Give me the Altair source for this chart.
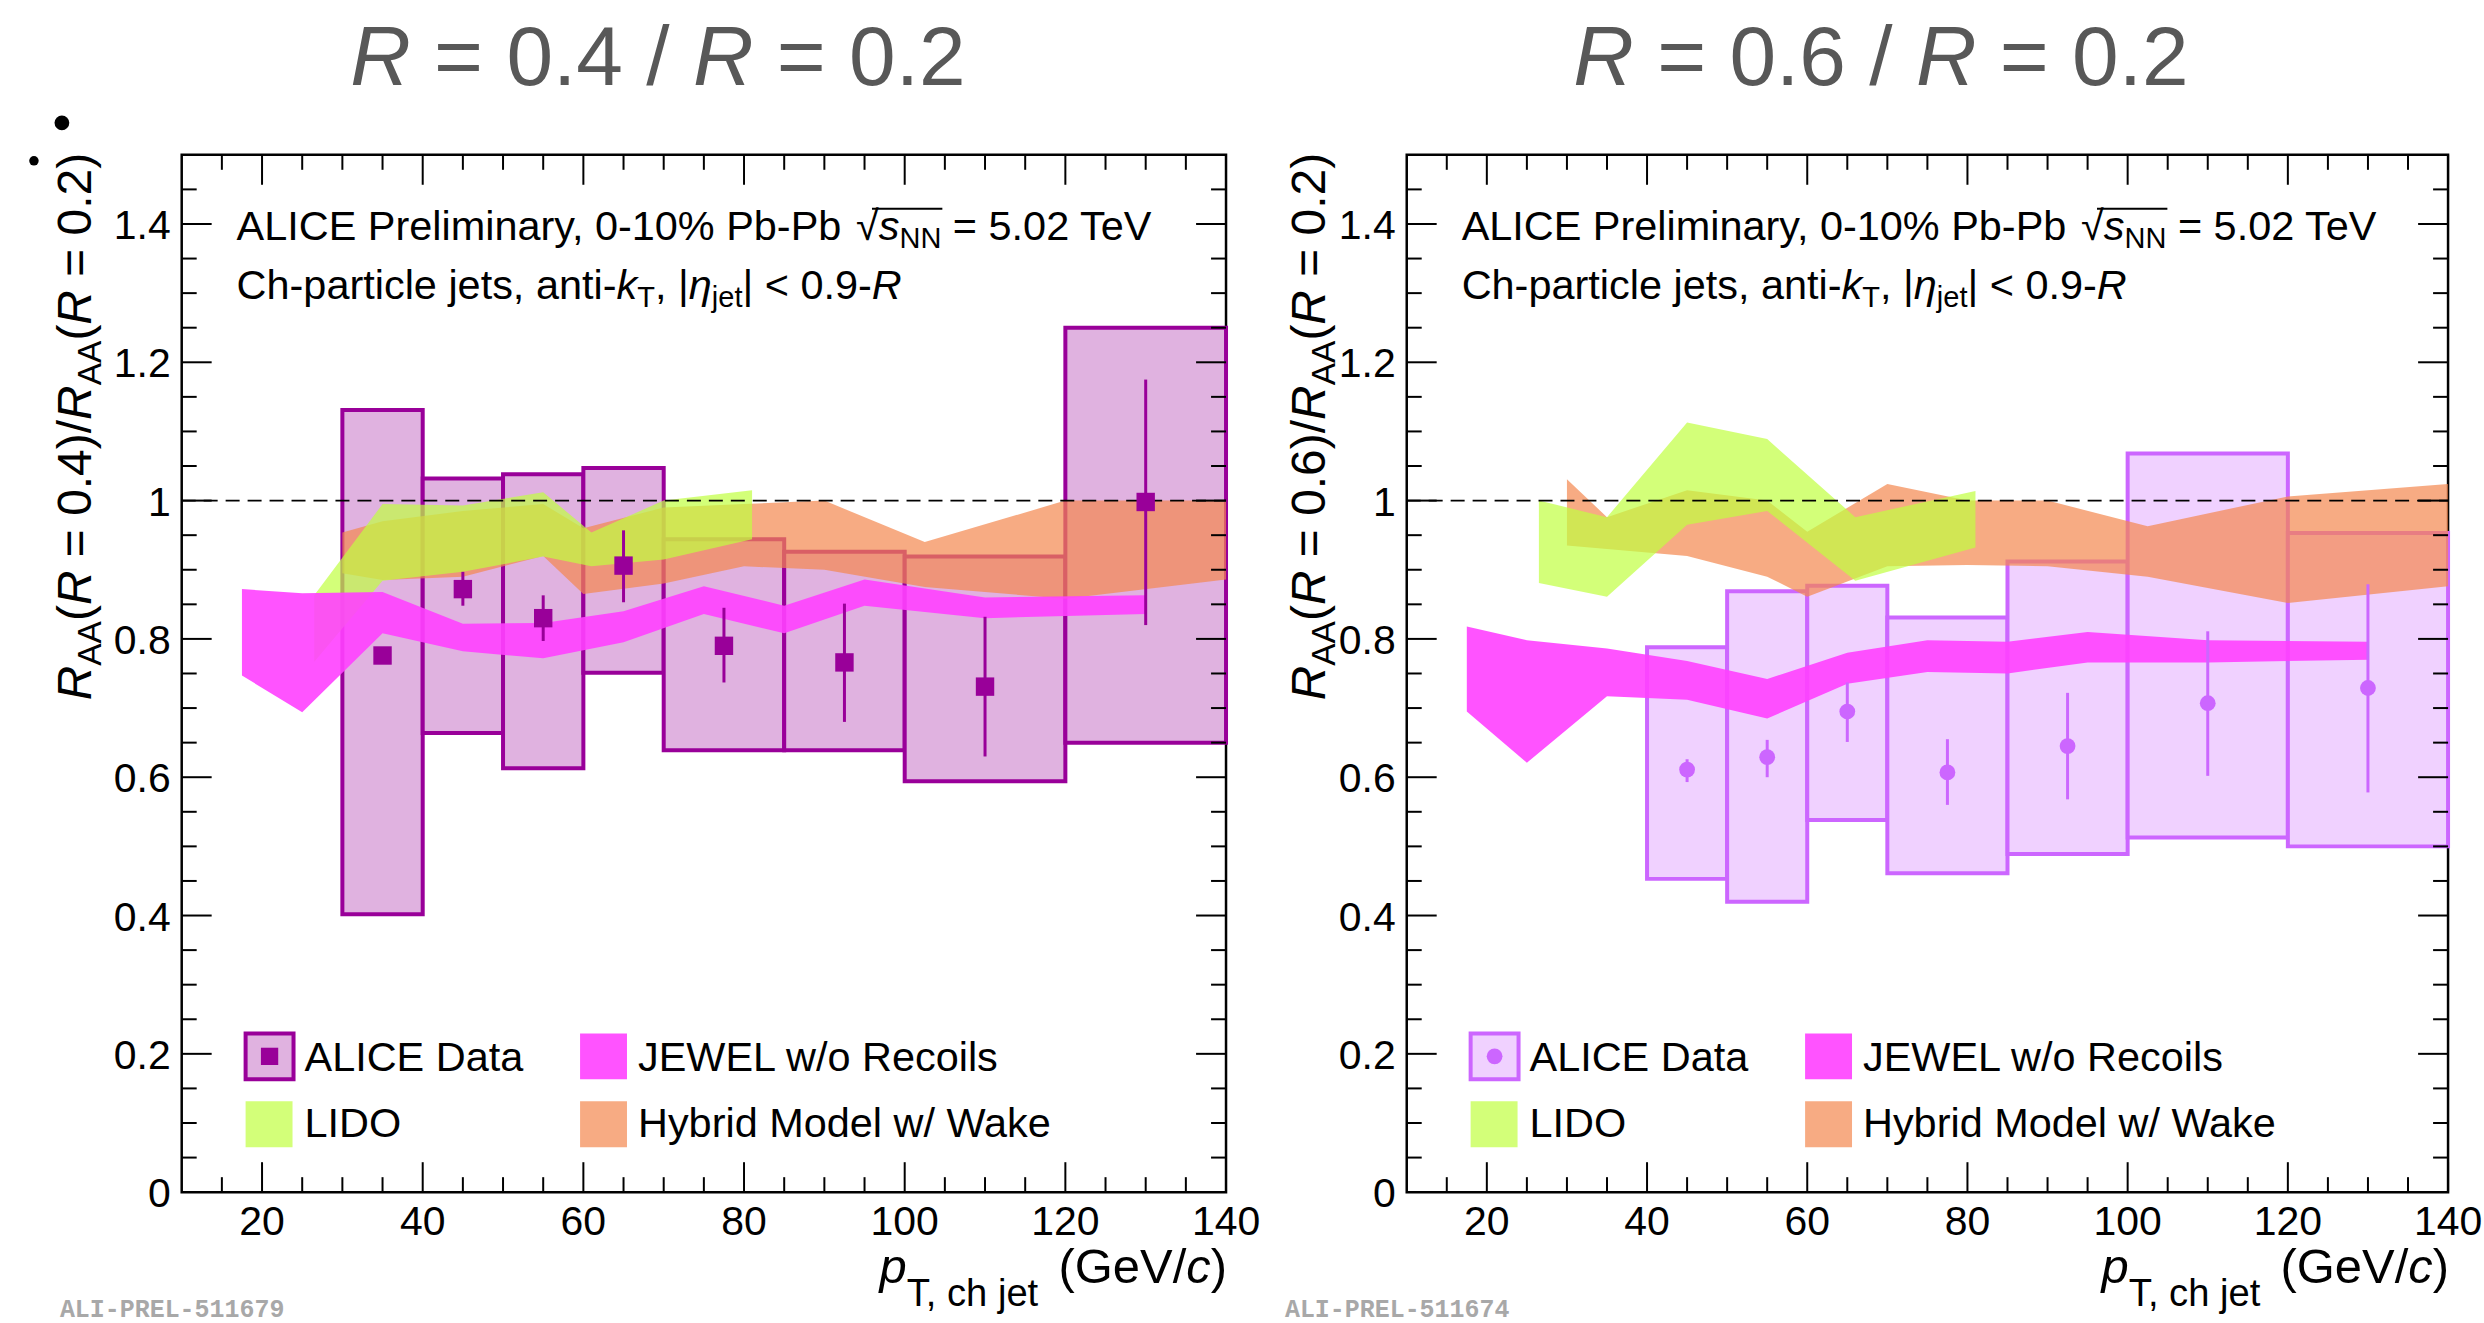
import altair as alt
import pandas as pd

FONT = "Liberation Sans"
MONO = "Liberation Mono"

# ---------------- R = 0.4 / R = 0.2 ----------------
bin_lo_04 = [30, 40, 50, 60, 70, 85, 100, 120]
bin_hi_04 = [40, 50, 60, 70, 85, 100, 120, 140]
pt_04 = [35, 45, 55, 65, 77.5, 92.5, 110, 130]
ratio_04 = [0.776, 0.872, 0.830, 0.906, 0.790, 0.766, 0.731, 0.998]
stat_lo_04 = [0.768, 0.848, 0.797, 0.853, 0.737, 0.680, 0.630, 0.820]
stat_hi_04 = [0.784, 0.897, 0.863, 0.957, 0.845, 0.851, 0.832, 1.175]
sys_lo_04 = [0.402, 0.664, 0.613, 0.751, 0.639, 0.639, 0.594, 0.650]
sys_hi_04 = [1.131, 1.032, 1.038, 1.047, 0.944, 0.926, 0.919, 1.250]

jewel_x = [17.5, 25, 35, 45, 55, 65, 75, 85, 95, 110, 130]
jewel_lo_04 = [0.747, 0.694, 0.808, 0.782, 0.772, 0.795, 0.836, 0.808, 0.848, 0.830, 0.836]
jewel_hi_04 = [0.872, 0.866, 0.868, 0.822, 0.823, 0.840, 0.876, 0.848, 0.886, 0.860, 0.863]

lido_x_04 = [26.5, 35, 45, 55, 61, 70, 81]
lido_lo_04 = [0.767, 0.884, 0.897, 0.919, 0.905, 0.915, 0.944]
lido_hi_04 = [0.863, 0.995, 0.993, 1.012, 0.954, 1.000, 1.015]

hybrid_x = [30, 35, 45, 55, 60, 70, 80, 90, 102.5, 120, 140]
hybrid_lo_04 = [0.895, 0.885, 0.890, 0.920, 0.865, 0.880, 0.905, 0.900, 0.875, 0.858, 0.886]
hybrid_hi_04 = [0.954, 0.970, 0.985, 0.995, 0.960, 0.990, 0.995, 1.000, 0.940, 1.000, 1.000]

# ---------------- R = 0.6 / R = 0.2 ----------------
bin_lo_06 = [40, 50, 60, 70, 85, 100, 120]
bin_hi_06 = [50, 60, 70, 85, 100, 120, 140]
pt_06 = [45, 55, 65, 77.5, 92.5, 110, 130]
ratio_06 = [0.611, 0.629, 0.695, 0.607, 0.645, 0.707, 0.729]
stat_lo_06 = [0.593, 0.600, 0.651, 0.560, 0.568, 0.602, 0.578]
stat_hi_06 = [0.626, 0.654, 0.737, 0.655, 0.722, 0.811, 0.879]
sys_lo_06 = [0.453, 0.420, 0.538, 0.461, 0.489, 0.513, 0.500]
sys_hi_06 = [0.788, 0.869, 0.877, 0.831, 0.912, 1.068, 0.953]

jewel_lo_06 = [0.695, 0.621, 0.717, 0.712, 0.685, 0.735, 0.752, 0.750, 0.766, 0.766, 0.770]
jewel_hi_06 = [0.818, 0.798, 0.786, 0.768, 0.742, 0.780, 0.798, 0.796, 0.810, 0.798, 0.796]

lido_x_06 = [26.5, 35, 45, 55, 66, 81]
lido_lo_06 = [0.881, 0.861, 0.965, 0.985, 0.884, 0.932]
lido_hi_06 = [1.000, 0.976, 1.113, 1.089, 0.976, 1.014]

hybrid_lo_06 = [0.935, 0.930, 0.920, 0.890, 0.861, 0.905, 0.907, 0.905, 0.890, 0.852, 0.876]
hybrid_hi_06 = [1.031, 0.976, 1.015, 1.000, 0.955, 1.024, 1.000, 1.000, 0.963, 1.006, 1.024]

# axis ticks and labels
x_major = [20, 40, 60, 80, 100, 120, 140]
x_minor = [v for v in range(15, 140, 5) if v % 20]
y_major = [round(0.2 * i, 2) for i in range(1, 8)]
y_minor = [round(0.05 * i, 2) for i in range(1, 30) if i % 4]
x_tick_labels = ["20", "40", "60", "80", "100", "120", "140"]
y_tick_values = [0, 0.2, 0.4, 0.6, 0.8, 1.0, 1.2, 1.4]
y_tick_labels = ["0", "0.2", "0.4", "0.6", "0.8", "1", "1.2", "1.4"]

PH = 1039
XS = alt.Scale(domain=[10, 140], nice=False, zero=False)
YS = alt.Scale(domain=[0, 1.5], nice=False, zero=False)

JEWEL_C, JEWEL_A = "#ff40ff", 0.9
LIDO_C, LIDO_A = "#c0ff40", 0.7
HYB_C, HYB_A = "#f4874f", 0.7

ONE = pd.DataFrame({"k": [0]})

# Helvetica/Arial advance widths (per 1000 em) for laying out mixed-style text
WID = {" ": 278, "(": 333, ")": 333, ",": 278, "-": 333, ".": 278, "/": 278, "%": 889,
       "|": 260, "<": 584, "=": 584, "\u221a": 549, "\u03b7": 556,
       "A": 667, "C": 722, "D": 722, "E": 667, "G": 778, "H": 722, "I": 278, "J": 500,
       "L": 556, "M": 833, "N": 722, "O": 778, "P": 667, "R": 722, "T": 611, "V": 667,
       "W": 944, "a": 556, "b": 556, "c": 500, "d": 556, "e": 556, "h": 556, "i": 222,
       "j": 222, "k": 500, "l": 222, "m": 833, "n": 556, "o": 556, "p": 556, "r": 333,
       "s": 500, "t": 278, "w": 722, "y": 500}
for _d in "0123456789":
    WID[_d] = 556


def tw(s, size):
    return sum(WID.get(c, 556) for c in s) * size / 1000.0


def label(s, x, y, size, italic=False, angle=0, color="black", align="left",
          font=FONT, bold=False):
    return alt.Chart(ONE).mark_text(
        text=s, font=font, fontSize=size,
        fontStyle="italic" if italic else "normal",
        fontWeight="bold" if bold else "normal",
        align=align, baseline="alphabetic", angle=angle, color=color,
    ).encode(x=alt.value(x), y=alt.value(y))


def rich_len(parts, size, sub):
    tot = 0.0
    for p in parts:
        fs = size * sub if p[2] else size
        tot += tw(p[0], fs) + (p[3] if len(p) > 3 else 0.0)
    return tot


def rich(parts, x0, y0, size, sub=0.7, drop=0.22, vertical=False, color="black"):
    """Lay out runs of (text, italic, subscript[, gap]) one after another."""
    out, off, marks = [], 0.0, []
    for p in parts:
        text, it, is_sub = p[:3]
        gap = p[3] if len(p) > 3 else 0.0
        fs = size * sub if is_sub else size
        sh = size * drop if is_sub else 0.0
        marks.append(off)
        body = text.lstrip(" ")
        lead = tw(text[: len(text) - len(body)], fs)
        if vertical:
            out.append(label(body, x0 + sh, y0 - off - lead, fs, it, angle=270, color=color))
        else:
            out.append(label(body, x0 + off + lead, y0 + sh, fs, it, color=color))
        off += tw(text, fs) + gap
    marks.append(off)
    return out, marks


def frame_ticks(W):
    out = []
    for vals, L in ((x_major, 30), (x_minor, 15)):
        base = alt.Chart(pd.DataFrame({"v": vals})).mark_rule(color="black", strokeWidth=2)
        xe = alt.X("v:Q", scale=XS, axis=None)
        out.append(base.encode(x=xe, y=alt.value(PH), y2=alt.value(PH - L)))
        out.append(base.encode(x=xe, y=alt.value(0), y2=alt.value(L)))
    for vals, L in ((y_major, 30), (y_minor, 15)):
        base = alt.Chart(pd.DataFrame({"v": vals})).mark_rule(color="black", strokeWidth=2)
        ye = alt.Y("v:Q", scale=YS, axis=None)
        out.append(base.encode(y=ye, x=alt.value(0), x2=alt.value(L)))
        out.append(base.encode(y=ye, x=alt.value(W), x2=alt.value(W - L)))
    # tick labels
    xl = pd.DataFrame({"v": x_major, "t": x_tick_labels})
    out.append(alt.Chart(xl).mark_text(font=FONT, fontSize=41, align="center",
                                       baseline="alphabetic", color="black").encode(
        x=alt.X("v:Q", scale=XS, axis=None), y=alt.value(PH + 43), text="t:N"))
    yl = pd.DataFrame({"v": y_tick_values, "t": y_tick_labels})
    out.append(alt.Chart(yl).mark_text(font=FONT, fontSize=41, align="right",
                                       baseline="alphabetic", dy=15, color="black").encode(
        y=alt.Y("v:Q", scale=YS, axis=None), x=alt.value(-11), text="t:N"))
    return out


def panel(W, d, st):
    layers = []
    # transparent sheet fixing the panel's outer extent on the page
    layers.append(alt.Chart(ONE).mark_rect(opacity=0).encode(
        x=alt.value(st["ext_l"]), x2=alt.value(st["ext_r"]),
        y=alt.value(-152), y2=alt.value(1171)))

    boxes = pd.DataFrame({"lo": d["bin_lo"], "hi": d["bin_hi"],
                          "slo": d["sys_lo"], "shi": d["sys_hi"]})
    layers.append(alt.Chart(boxes).mark_rect(fill=st["fill"], stroke=st["edge"], strokeWidth=4).encode(
        x=alt.X("lo:Q", scale=XS, axis=None), x2="hi:Q",
        y=alt.Y("slo:Q", scale=YS, axis=None), y2="shi:Q"))

    def band(xv, lo, hi, color, op):
        df = pd.DataFrame({"x": xv, "lo": lo, "hi": hi})
        return alt.Chart(df).mark_area(color=color, opacity=op).encode(
            x=alt.X("x:Q", scale=XS, axis=None),
            y=alt.Y("lo:Q", scale=YS, axis=None), y2="hi:Q")

    layers.append(band(hybrid_x, d["hyb_lo"], d["hyb_hi"], HYB_C, HYB_A))
    layers.append(band(d["lido_x"], d["lido_lo"], d["lido_hi"], LIDO_C, LIDO_A))
    layers.append(band(jewel_x, d["jew_lo"], d["jew_hi"], JEWEL_C, JEWEL_A))

    layers.append(alt.Chart(pd.DataFrame({"ref": [1.0]})).mark_rule(
        color="black", strokeWidth=1.6, strokeDash=[14, 8]).encode(
        y=alt.Y("ref:Q", scale=YS, axis=None), x=alt.value(0), x2=alt.value(W)))

    pts = pd.DataFrame({"x": d["pt"], "v": d["ratio"], "elo": d["stat_lo"], "ehi": d["stat_hi"]})
    layers.append(alt.Chart(pts).mark_rule(color=st["edge"], strokeWidth=3).encode(
        x=alt.X("x:Q", scale=XS, axis=None),
        y=alt.Y("elo:Q", scale=YS, axis=None), y2="ehi:Q"))
    if st["shape"] == "square":
        mk = alt.Chart(pts).mark_square(size=340, color=st["edge"], opacity=1)
    else:
        mk = alt.Chart(pts).mark_circle(size=250, color=st["edge"], opacity=1)
    layers.append(mk.encode(x=alt.X("x:Q", scale=XS, axis=None),
                            y=alt.Y("v:Q", scale=YS, axis=None)))

    layers += frame_ticks(W)

    # panel heading
    tparts = [("R", True, False), (st["head"], False, False), ("R", True, False),
              (" = 0.2", False, False)]
    tl = rich_len(tparts, 84, 0.7)
    txt, _ = rich(tparts, st["head_cx"] - tl / 2, -70, 84, color="#585858")
    layers += txt

    # collaboration / selection text
    l1 = [("ALICE Preliminary, 0-10% Pb-Pb ", False, False), ("\u221a", False, False),
          ("s", True, False), ("NN", False, True), (" = 5.02 TeV", False, False)]
    txt, m = rich(l1, 55, 85, 41.5, sub=0.7, drop=0.2)
    layers += txt
    layers.append(alt.Chart(ONE).mark_rule(color="black", strokeWidth=2).encode(
        x=alt.value(55 + m[1] + 16), x2=alt.value(55 + m[4] + 1),
        y=alt.value(54), y2=alt.value(54)))
    l2 = [("Ch-particle jets, anti-", False, False), ("k", True, False), ("T", False, True),
          (", |", False, False), ("\u03b7", True, False), ("jet", False, True),
          ("| < 0.9-", False, False), ("R", True, False)]
    txt, _ = rich(l2, 55, 144, 41.5, sub=0.7, drop=0.2)
    layers += txt

    # legend
    layers.append(alt.Chart(ONE).mark_rect(fill=st["fill"], stroke=st["edge"], strokeWidth=4).encode(
        x=alt.value(64), x2=alt.value(112), y=alt.value(880), y2=alt.value(926)))
    if st["shape"] == "square":
        lm = alt.Chart(ONE).mark_square(size=300, color=st["edge"], opacity=1)
    else:
        lm = alt.Chart(ONE).mark_circle(size=250, color=st["edge"], opacity=1)
    layers.append(lm.encode(x=alt.value(88), y=alt.value(903)))
    for (x1, y1, c, op) in ((64, 948, LIDO_C, LIDO_A), (399, 880, JEWEL_C, JEWEL_A),
                            (399, 948, HYB_C, HYB_A)):
        layers.append(alt.Chart(ONE).mark_rect(color=c, opacity=op).encode(
            x=alt.value(x1), x2=alt.value(x1 + 47), y=alt.value(y1), y2=alt.value(y1 + 46)))
    layers.append(label("ALICE Data", 123, 918, 41.5))
    layers.append(label("LIDO", 123, 984, 41.5))
    layers.append(label("JEWEL w/o Recoils", 457, 918, 41.5))
    layers.append(label("Hybrid Model w/ Wake", 457, 984, 41.5))

    # axis titles
    yparts = [("R", True, False), ("AA", False, True), ("(", False, False), ("R", True, False),
              (st["ytitle"], False, False), ("R", True, False), ("AA", False, True),
              ("(", False, False), ("R", True, False), (" = 0.2)", False, False)]
    yl = rich_len(yparts, 48, 0.7)
    txt, _ = rich(yparts, st["ytitle_x"], -2 + yl, 48, sub=0.7, drop=0.22, vertical=True)
    layers += txt

    xparts = [("p", True, False), ("T, ch jet", False, True, 16), ("(GeV/", False, False),
              ("c", True, False), (")", False, False)]
    xl = rich_len(xparts, 49, 0.78)
    txt, _ = rich(xparts, W + 1 - xl, 1130, 49, sub=0.78, drop=0.48)
    layers += txt

    layers.append(label(st["tag"], -122, 1164, 25, font=MONO, bold=True, color="#a8a8a8"))
    for (px, py, sz) in st.get("dots", []):
        layers.append(alt.Chart(ONE).mark_circle(size=sz, color="black", opacity=1).encode(
            x=alt.value(px), y=alt.value(py)))

    return alt.layer(*layers).properties(width=W, height=PH)


left = panel(1046, {
    "bin_lo": bin_lo_04, "bin_hi": bin_hi_04, "sys_lo": sys_lo_04, "sys_hi": sys_hi_04,
    "pt": pt_04, "ratio": ratio_04, "stat_lo": stat_lo_04, "stat_hi": stat_hi_04,
    "jew_lo": jewel_lo_04, "jew_hi": jewel_hi_04,
    "lido_x": lido_x_04, "lido_lo": lido_lo_04, "lido_hi": lido_hi_04,
    "hyb_lo": hybrid_lo_04, "hyb_hi": hybrid_hi_04,
}, {
    "fill": "#e0b2e0", "edge": "#990099", "shape": "square", "head": " = 0.4 / ",
    "head_cx": 477, "ytitle": " = 0.4)/", "ytitle_x": -91, "tag": "ALI-PREL-511679",
    "ext_l": -180, "ext_r": 1100, "dots": [(-148, 6, 90), (-120, -32, 220)],
})

right = panel(1043, {
    "bin_lo": bin_lo_06, "bin_hi": bin_hi_06, "sys_lo": sys_lo_06, "sys_hi": sys_hi_06,
    "pt": pt_06, "ratio": ratio_06, "stat_lo": stat_lo_06, "stat_hi": stat_hi_06,
    "jew_lo": jewel_lo_06, "jew_hi": jewel_hi_06,
    "lido_x": lido_x_06, "lido_lo": lido_lo_06, "lido_hi": lido_hi_06,
    "hyb_lo": hybrid_lo_06, "hyb_hi": hybrid_hi_06,
}, {
    "fill": "#f0d1ff", "edge": "#cc66ff", "shape": "circle", "head": " = 0.6 / ",
    "head_cx": 475, "ytitle": " = 0.6)/", "ytitle_x": -82, "tag": "ALI-PREL-511674",
    "ext_l": -127, "ext_r": 1077,
})

chart = alt.hconcat(left, right, spacing=181, bounds="flush").properties(
    padding=0
).configure_view(stroke="black", strokeWidth=2.5)

chart.save("out.html", embed_options={"renderer": "svg", "actions": False})
